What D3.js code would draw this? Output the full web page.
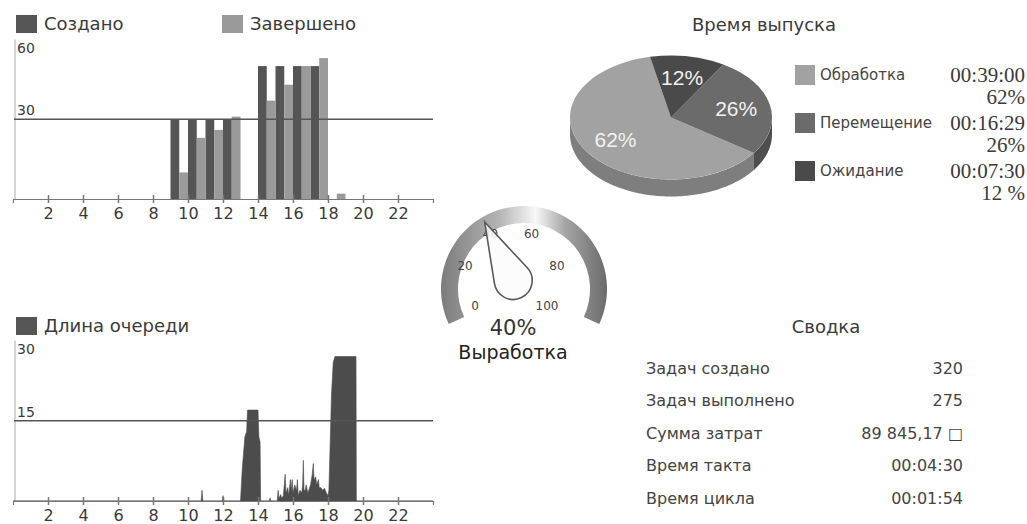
<!DOCTYPE html>
<html>
<head>
<meta charset="utf-8">
<script src="https://cdn.jsdelivr.net/npm/d3@7"></script>
<style>
    body { margin: 0; background: #fff; }
    svg text { font-family: "DejaVu Sans", Verdana, sans-serif; fill: #3a3a3a; }
</style>
</head>
<body>
<div id="chart"></div>
<script>
/*************************** DATA ***************************/

var hours = d3.range(0, 24);
var created = [0, 0, 0, 0, 0, 0, 0, 0, 0, 30, 30, 30, 30, 0, 50, 50, 50, 50, 0, 0, 0, 0, 0, 0];
var completed = [0, 0, 0, 0, 0, 0, 0, 0, 0, 10, 23, 26, 31, 0, 37, 43, 50, 53, 2, 0, 0, 0, 0, 0];
var hourTicks = [2, 4, 6, 8, 10, 12, 14, 16, 18, 20, 22];

// queue length (hour, length)
var queueHour = [0, 10.75, 10.8, 10.85, 11.95, 12.0, 12.05,
    13.0, 13.1, 13.25, 13.35, 13.4, 14.0, 14.05, 14.12, 14.15,
    14.65, 14.69, 14.73,
    15.1, 15.15, 15.2, 15.3, 15.35, 15.45, 15.5, 15.55, 15.6, 15.7, 15.75, 15.85, 15.9, 15.95,
    16.0, 16.1, 16.2, 16.25, 16.3, 16.4, 16.5, 16.55, 16.59, 16.63, 16.7, 16.75, 16.85,
    17.0, 17.1, 17.16, 17.2, 17.3, 17.35, 17.45, 17.5, 17.6, 17.7, 17.8, 17.9,
    18.0, 18.05, 18.1, 18.2, 18.3, 18.4, 19.6, 19.62, 24];
var queueLen = [0, 0, 2, 0, 0, 1, 0,
    0, 6, 12, 13, 17, 17, 12, 11, 0,
    0, 0.6, 0,
    0, 2, 0.5, 1.2, 0.5, 1, 3, 5, 1.5, 2.5, 1, 4, 2, 4,
    1.5, 3, 2, 4, 1, 2, 1.5, 3, 7.6, 2, 2, 3, 1.5,
    3, 5, 7, 4, 4.5, 3, 4, 2.5, 2.5, 2, 2.4, 1.5,
    1, 2, 8, 20, 26, 27, 27, 0, 0];

var pieNames = ["Обработка", "Перемещение", "Ожидание"];
var pieShares = [62, 26, 12];
var pieTimes = ["00:39:00", "00:16:29", "00:07:30"];
var pieShareText = ["62%", "26%", "12 %"];
var pieColors = ["#a2a2a2", "#6b6b6b", "#4a4a4a"];
var pieSideColors = ["#7e7e7e", "#4f4f4f", "#383838"];

var gaugeTicks = [0, 20, 40, 60, 80, 100];
var gaugeValue = 40;

var summaryLabels = ["Задач создано", "Задач выполнено", "Сумма затрат", "Время такта", "Время цикла"];
var summaryValues = [d3.sum(created), d3.sum(completed), "89 845,17 \u25A1", "00:04:30", "00:01:54"];

/*************************** SVG ***************************/

var svg = d3.select("#chart").append("svg")
    .attr("width", 1027)
    .attr("height", 524);

var defs = svg.append("defs");

var darkBar = "#555555",
    lightBar = "#9a9a9a";

var x = d3.scaleLinear().domain([0, 24]).range([13, 433]);

function hourAxis(g, baseY) {
    g.attr("transform", "translate(0," + baseY + ")")
        .call(d3.axisBottom(x).tickValues(hourTicks).tickSizeOuter(0).tickSize(4).tickPadding(5));
    g.select(".domain").attr("stroke", "#777").attr("stroke-width", 1.2);
    g.selectAll(".tick line").attr("y1", -4).attr("y2", 4).attr("stroke", "#777").attr("stroke-width", 1.5);
    g.selectAll(".tick text")
        .style("font-family", "DejaVu Sans")
        .style("font-size", "16px")
        .attr("fill", "#333");
}

function legendItem(g, lx, ly, color, label) {
    g.append("rect").attr("x", lx).attr("y", ly).attr("width", 21).attr("height", 18).attr("fill", color);
    g.append("text").attr("x", lx + 28).attr("y", ly + 9).attr("dy", "0.35em")
        .style("font-size", "18px").text(label);
}

/********** top: created / completed **********/

var yTop = d3.scaleLinear().domain([0, 60]).range([199, 39.5]);
var chartTop = svg.append("g");

legendItem(chartTop, 16, 15, darkBar, "Создано");
legendItem(chartTop, 222, 15, lightBar, "Завершено");

chartTop.append("line")
    .attr("x1", 15).attr("x2", 15)
    .attr("y1", yTop(60)).attr("y2", yTop(0))
    .attr("stroke", "#aaa");

chartTop.selectAll(".bar-created")
    .data(hours)
    .enter().append("rect")
    .attr("class", "bar-created")
    .attr("x", function(d) { return x(d); })
    .attr("width", function(d) { return x(d + 0.5) - x(d); })
    .attr("y", function(d) { return yTop(created[d]); })
    .attr("height", function(d) { return yTop(0) - yTop(created[d]); })
    .attr("fill", darkBar);

chartTop.selectAll(".bar-completed")
    .data(hours)
    .enter().append("rect")
    .attr("class", "bar-completed")
    .attr("x", function(d) { return x(d + 0.5); })
    .attr("width", function(d) { return x(d + 1) - x(d + 0.5); })
    .attr("y", function(d) { return yTop(completed[d]); })
    .attr("height", function(d) { return yTop(0) - yTop(completed[d]); })
    .attr("fill", lightBar);

chartTop.append("line")
    .attr("x1", 14).attr("x2", x(24))
    .attr("y1", yTop(30)).attr("y2", yTop(30))
    .attr("stroke", "#555").attr("stroke-width", 1.5);

chartTop.append("text").attr("x", 17).attr("y", yTop(60) + 13).style("font-size", "14px").text("60");
chartTop.append("text").attr("x", 17).attr("y", yTop(30) - 4).style("font-size", "14px").text("30");

hourAxis(chartTop.append("g"), yTop(0));

/********** bottom: queue length **********/

var yBot = d3.scaleLinear().domain([0, 30]).range([501, 340.5]);
var chartBot = svg.append("g");

legendItem(chartBot, 16, 317, darkBar, "Длина очереди");

chartBot.append("line")
    .attr("x1", 15).attr("x2", 15)
    .attr("y1", yBot(30)).attr("y2", yBot(0))
    .attr("stroke", "#aaa");

var queueArea = d3.area()
    .x(function(d, i) { return x(queueHour[i]); })
    .y0(yBot(0))
    .y1(function(d) { return yBot(d); });

chartBot.append("path")
    .datum(queueLen)
    .attr("d", queueArea)
    .attr("fill", "#4c4c4c")
    .attr("stroke", "#4c4c4c")
    .attr("stroke-width", 0.6);

chartBot.append("line")
    .attr("x1", 14).attr("x2", x(24))
    .attr("y1", yBot(15)).attr("y2", yBot(15))
    .attr("stroke", "#555").attr("stroke-width", 1.5);

chartBot.append("text").attr("x", 17).attr("y", yBot(30) + 13).style("font-size", "14px").text("30");
chartBot.append("text").attr("x", 17).attr("y", yBot(15) - 4).style("font-size", "14px").text("15");

hourAxis(chartBot.append("g"), yBot(0));

/*************************** GAUGE ***************************/

var rad = Math.PI / 180;
var gauge = svg.append("g");

// gradient in the arc's own (translated) space
var grad = defs.append("linearGradient")
    .attr("id", "gaugeGrad")
    .attr("gradientUnits", "userSpaceOnUse")
    .attr("x1", -83).attr("x2", 83).attr("y1", 0).attr("y2", 0);
grad.append("stop").attr("offset", 0).attr("stop-color", "#7c7c7c");
grad.append("stop").attr("offset", 0.35).attr("stop-color", "#b4b4b4");
grad.append("stop").attr("offset", 0.57).attr("stop-color", "#f8f8f8");
grad.append("stop").attr("offset", 0.75).attr("stop-color", "#a4a4a4");
grad.append("stop").attr("offset", 1).attr("stop-color", "#6a6a6a");

gauge.append("path")
    .attr("transform", "translate(524,289)")
    .attr("d", d3.arc()({ innerRadius: 66, outerRadius: 83, startAngle: -115 * rad, endAngle: 115 * rad }))
    .attr("fill", "url(#gaugeGrad)");

var gAngle = d3.scaleLinear().domain([0, 100]).range([-130, 130]);
var gcx = 511, gcy = 276, labelR = 47;

gauge.selectAll(".gtick")
    .data(gaugeTicks)
    .enter().append("text")
    .attr("class", "gtick")
    .attr("x", function(d) { return gcx + labelR * Math.sin(gAngle(d) * rad); })
    .attr("y", function(d) { return gcy - labelR * Math.cos(gAngle(d) * rad); })
    .attr("dy", "0.35em")
    .attr("text-anchor", "middle")
    .style("font-size", "12px")
    .style("fill", "#444")
    .text(function(d) { return d; });

// teardrop needle
var needleLen = 60, bulbC = 5, bulbR = 19;
var phi = Math.acos(bulbR / (needleLen + bulbC));
var tx = bulbR * Math.sin(phi), ty = bulbC - bulbR * Math.cos(phi);
gauge.append("path")
    .attr("transform", "translate(" + gcx + "," + gcy + ") rotate(" + gAngle(gaugeValue) + ")")
    .attr("d", "M0," + (-needleLen) + "L" + tx + "," + ty +
        "A" + bulbR + "," + bulbR + " 0 1 1 " + (-tx) + "," + ty + "Z")
    .attr("fill", "#fbfbfb")
    .attr("fill-opacity", 0.85)
    .attr("stroke", "#5a5a5a")
    .attr("stroke-width", 1.6);

gauge.append("text")
    .attr("x", 513).attr("y", 328).attr("dy", "0.35em")
    .attr("text-anchor", "middle")
    .style("font-size", "21px")
    .style("fill", "#333")
    .text(gaugeValue + "%");

gauge.append("text")
    .attr("x", 513).attr("y", 352).attr("dy", "0.35em")
    .attr("text-anchor", "middle")
    .style("font-size", "19px")
    .style("fill", "#222")
    .text("Выработка");

/*************************** PIE ***************************/

var pcx = 671, pcy = 117.5, prx = 101, pry = 62, depth = 17;
var pieG = svg.append("g");

pieG.append("text")
    .attr("x", 764).attr("y", 25).attr("dy", "0.35em")
    .attr("text-anchor", "middle")
    .style("font-size", "18px")
    .text("Время выпуска");

var slices = d3.pie().sort(null)
    .startAngle(348 * rad)
    .endAngle(-12 * rad)(pieShares);

function ell(a, dy) {
    return [pcx + prx * Math.sin(a), pcy - pry * Math.cos(a) + dy];
}

// side of the pie, only the front half shows
slices.forEach(function(s, i) {
    var lo = Math.min(s.startAngle, s.endAngle),
        hi = Math.max(s.startAngle, s.endAngle);
    var a0 = Math.max(lo, 90 * rad),
        a1 = Math.min(hi, 270 * rad);
    if (a1 <= a0) return;
    var steps = d3.range(a0, a1, 1 * rad).concat([a1]);
    var pts = steps.map(function(a) { return ell(a, 0); })
        .concat(steps.slice().reverse().map(function(a) { return ell(a, depth); }));
    pieG.append("path")
        .attr("d", d3.line()(pts) + "Z")
        .attr("fill", pieSideColors[i]);
});

var arc = d3.arc().innerRadius(0).outerRadius(prx);
var pieTop = pieG.append("g")
    .attr("transform", "translate(" + pcx + "," + pcy + ") scale(1," + (pry / prx) + ")");
pieTop.selectAll("path")
    .data(slices)
    .enter().append("path")
    .attr("d", arc)
    .attr("fill", function(d, i) { return pieColors[i]; });

var labelArc = d3.arc().innerRadius(prx * 0.66).outerRadius(prx * 0.66);
pieG.selectAll(".plabel")
    .data(slices)
    .enter().append("text")
    .attr("class", "plabel")
    .attr("x", function(d) { return pcx + labelArc.centroid(d)[0]; })
    .attr("y", function(d) { return pcy + labelArc.centroid(d)[1] * pry / prx; })
    .attr("dy", "0.35em")
    .attr("text-anchor", "middle")
    .style("font-family", "Liberation Sans, Arial, sans-serif")
    .style("font-size", "21px")
    .style("fill", "#f2f2f2")
    .text(function(d, i) { return pieShares[i] + "%"; });

var legRow = [75, 123, 171];
pieNames.forEach(function(name, i) {
    pieG.append("rect")
        .attr("x", 795).attr("y", legRow[i] - 10)
        .attr("width", 20).attr("height", 20)
        .attr("fill", pieColors[i]);
    pieG.append("text")
        .attr("x", 820).attr("y", legRow[i]).attr("dy", "0.35em")
        .style("font-size", "15px")
        .style("fill", "#444")
        .text(name);
    pieG.append("text")
        .attr("x", 1025).attr("y", legRow[i]).attr("dy", "0.35em")
        .attr("text-anchor", "end")
        .style("font-family", "Liberation Serif, Times New Roman, serif")
        .style("font-size", "21px")
        .text(pieTimes[i]);
    pieG.append("text")
        .attr("x", 1025).attr("y", legRow[i] + 22).attr("dy", "0.35em")
        .attr("text-anchor", "end")
        .style("font-family", "Liberation Serif, Times New Roman, serif")
        .style("font-size", "21px")
        .text(pieShareText[i]);
});

/*************************** SUMMARY ***************************/

var summary = svg.append("g");
summary.append("text")
    .attr("x", 826).attr("y", 327).attr("dy", "0.35em")
    .attr("text-anchor", "middle")
    .style("font-size", "18px")
    .text("Сводка");

var rowY = d3.scaleLinear().domain([0, 4]).range([368, 498]);
summaryLabels.forEach(function(label, i) {
    summary.append("text")
        .attr("x", 646).attr("y", rowY(i)).attr("dy", "0.35em")
        .style("font-size", "16px")
        .style("fill", "#444")
        .text(label);
    summary.append("text")
        .attr("x", 963).attr("y", rowY(i)).attr("dy", "0.35em")
        .attr("text-anchor", "end")
        .style("font-size", "16px")
        .style("fill", "#444")
        .text(summaryValues[i]);
});
</script>
</body>
</html>
